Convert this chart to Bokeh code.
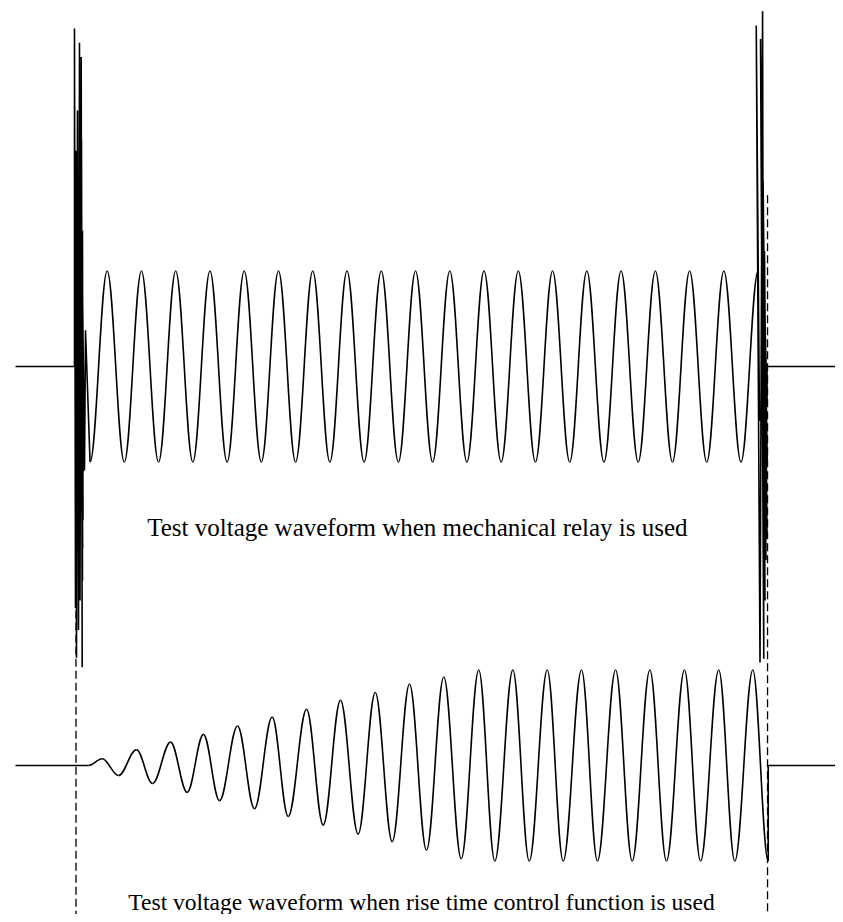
from bokeh.plotting import figure
from bokeh.models import Range1d
from bokeh.core.properties import value
from bokeh.embed import file_html
from bokeh.resources import INLINE

# ---------------- data (time in ms, voltage in p.u.) ----------------
# Upper trace: steady sine switched by a mechanical relay
TOP_TROUGH_T = [8.2, 28.2, 48.2, 68.2, 88.2, 108.2, 128.2, 148.2, 168.2, 188.2,
                208.2, 228.2, 248.2, 268.2, 288.2, 308.2, 328.2, 348.2, 368.2, 388.2]
TOP_PEAK_T = [18.2, 38.2, 58.2, 78.2, 98.2, 118.2, 138.2, 158.2, 178.2, 198.2,
              218.2, 238.2, 258.2, 278.2, 298.2, 318.2, 338.2, 358.2, 378.2, 398.2]
TOP_AMP = 1.0

# switching transients (contact bounce) at relay turn-on and turn-off
LEFT_SPIKE_T = [-0.88, -0.88, -0.29, 0.0, 0.29, 0.88, 1.46, 2.04, 2.34, 3.04,
                3.62, 3.21, 3.79, 2.6, 3.9, 1.2, 3.5, 0.5, 3.9, 2.0, 4.2, 1.0,
                3.79, 4.09, 3.79, 4.96, 5.55]
LEFT_SPIKE_V = [0.0, 3.54, -2.53, 2.26, -3.05, 2.68, -2.76, 3.39, -2.45, 3.24,
                -3.15, 2.37, -2.24, 1.9, -1.9, 1.6, -1.6, 1.3, -1.3, 1.1, -1.1, 0.9,
                1.42, -1.61, 0.80, -1.09, 0.38]
RIGHT_SPIKE_T = [399.0, 397.1, 399.3, 400.8, 401.5, 399.6, 402.2, 400.5, 402.8,
                 401.1, 403.1, 401.9, 403.4, 400.9, 403.0, 401.6, 403.5, 402.2,
                 403.4, 403.4]
RIGHT_SPIKE_V = [-0.57, 3.57, -3.10, 3.72, -3.06, 3.43, -2.45, 2.58, -2.03,
                 1.95, -1.51, 1.21, -1.8, 1.6, -1.3, 1.0, -0.98, 0.48, -0.36, 0.0]

# Lower trace: soft start (rise time control)
BOT_START_T = 7.3
BOT_PEAK_T = [15.3, 35.3, 55.2, 74.4, 94.3, 114.5, 134.6, 154.4, 174.7, 194.7,
              214.7, 235.1, 255.0, 275.1, 295.1, 315.0, 335.0, 355.2, 375.2, 395.1]
BOT_PEAK_V = [0.07, 0.165, 0.245, 0.326, 0.414, 0.508, 0.589, 0.684, 0.765, 0.853,
              0.926, 1.0, 1.0, 1.0, 1.0, 1.0, 1.0, 1.0, 1.0, 1.0]
BOT_TROUGH_T = [24.8, 44.7, 64.9, 83.8, 104.2, 123.9, 144.3, 164.7, 184.6, 204.6,
                224.9, 244.5, 264.6, 284.4, 304.4, 324.7, 344.7, 364.6, 384.6, 404.1]
BOT_TROUGH_V = [-0.105, -0.189, -0.281, -0.368, -0.453, -0.534, -0.624, -0.719, -0.797, -0.887,
                -0.976, -1.0, -1.0, -1.0, -1.0, -1.0, -1.0, -1.0, -1.0, -1.0]

SWITCH_ON_T = 0.0
SWITCH_OFF_T = 403.7
LEAD_START_T = -35.3

TITLE_TOP = "Test voltage waveform when mechanical relay is used"
TITLE_BOT = "Test voltage waveform when rise time control function is used"

# ---------------- layout ----------------
TOP_OFFSET = 4.178      # vertical offset of the upper trace (p.u.)
T_MIN, T_MAX = -44.07, 443.37
V_MIN, V_MAX = -1.56, 8.01
LINE_W = 1.6
K = 0.3634              # bezier control factor approximating a half cosine

p = figure(width=835, height=914, output_backend="svg", toolbar_location=None,
           x_range=Range1d(T_MIN, T_MAX), y_range=Range1d(V_MIN, V_MAX),
           min_border=0, outline_line_color=None, background_fill_color="white",
           border_fill_color="white")
p.xaxis.visible = False
p.yaxis.visible = False
p.grid.visible = False


def half_waves(ts, vs, offset):
    x0, y0, x1, y1, cx0, cy0, cx1, cy1 = [], [], [], [], [], [], [], []
    for i in range(len(ts) - 1):
        a, b = ts[i], ts[i + 1]
        va, vb = vs[i] + offset, vs[i + 1] + offset
        d = b - a
        x0.append(a); y0.append(va); x1.append(b); y1.append(vb)
        cx0.append(a + K * d); cy0.append(va)
        cx1.append(b - K * d); cy1.append(vb)
    p.bezier(x0=x0, y0=y0, x1=x1, y1=y1, cx0=cx0, cy0=cy0, cx1=cx1, cy1=cy1,
             line_color="black", line_width=LINE_W)


# upper trace extrema
top_t, top_v = [], []
for tr, pk in zip(TOP_TROUGH_T, TOP_PEAK_T):
    top_t += [tr, pk]
    top_v += [-TOP_AMP, TOP_AMP]
half_waves(top_t, top_v, TOP_OFFSET)

# upper flat line before switch-on and left bounce
lx = [LEAD_START_T] + LEFT_SPIKE_T + [top_t[0]]
ly = [TOP_OFFSET] + [v + TOP_OFFSET for v in LEFT_SPIKE_V] + [top_v[0] + TOP_OFFSET]
p.line(lx, ly, line_color="black", line_width=LINE_W)

# right bounce and flat line after switch-off
rx = [top_t[-1]] + RIGHT_SPIKE_T + [T_MAX]
ry = [top_v[-1] + TOP_OFFSET] + [v + TOP_OFFSET for v in RIGHT_SPIKE_V] + [TOP_OFFSET]
p.line(rx, ry, line_color="black", line_width=LINE_W)

# lower trace
bot_t, bot_v = [BOT_START_T], [0.0]
for pk, pv, tr, tv in zip(BOT_PEAK_T, BOT_PEAK_V, BOT_TROUGH_T, BOT_TROUGH_V):
    bot_t += [pk, tr]
    bot_v += [pv, tv]
half_waves(bot_t, bot_v, 0.0)
p.line([LEAD_START_T, BOT_START_T], [0.0, 0.0], line_color="black", line_width=LINE_W)
p.line([bot_t[-1], bot_t[-1], T_MAX], [bot_v[-1], 0.0, 0.0],
       line_color="black", line_width=LINE_W)

# switching instants (dashed)
p.segment(x0=[SWITCH_ON_T, SWITCH_OFF_T], y0=[5.39, 5.97],
          x1=[SWITCH_ON_T, SWITCH_OFF_T], y1=[V_MIN, V_MIN],
          line_color="black", line_width=1.3, line_dash="8 4")

# captions
p.text(x=[199.3], y=[2.49], text=[TITLE_TOP], text_align="center",
       text_baseline="middle", text_font=value("Liberation Serif"),
       text_font_size="25px", text_color="black")
p.text(x=[201.7], y=[-1.43], text=[TITLE_BOT], text_align="center",
       text_baseline="middle", text_font=value("Liberation Serif"),
       text_font_size="23.5px", text_color="black")

open("out.html", "w").write(file_html(p, INLINE))
